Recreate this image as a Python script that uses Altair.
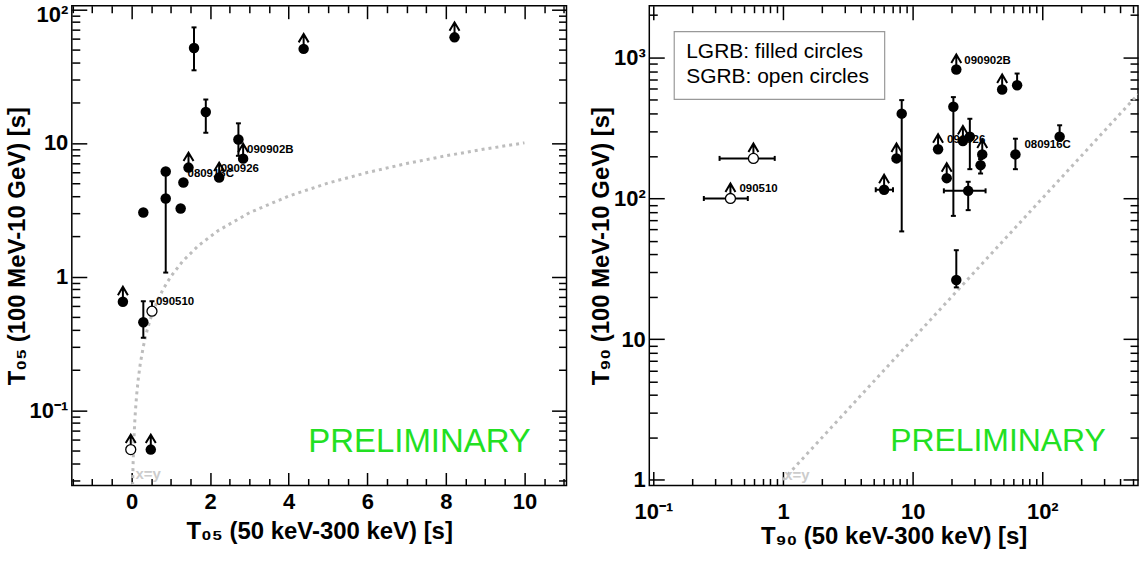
import altair as alt
import pandas as pd

FONT = "Liberation Sans"

# ---------------- Left panel (T05) data ----------------
L_x = [0.30, 0.87, 0.87, 1.25, 1.32, 1.45, 1.59, 1.89, 2.23, 2.72, 2.84, 4.38, 8.22, -0.22, 0.30, 0.52, -0.02, 0.49]
L_y = [3.01, 3.83, 6.10, 3.23, 5.05, 6.53, 51.3, 17.0, 5.50, 10.6, 7.62, 50.5, 61.6, 0.648, 0.455, 0.550, 0.0507, 0.0507]
L_open = [0, 0, 0, 0, 0, 0, 0, 0, 0, 0, 0, 0, 0, 0, 0, 1, 1, 0]
L_limit = [0, 0, 0, 0, 0, 1, 0, 0, 1, 0, 1, 1, 1, 1, 0, 0, 1, 1]
L_ylo = [None, 1.07, None, None, None, None, 34.9, 11.9, None, 8.0, None, None, None, None, 0.348, 0.55, None, None]
L_yhi = [None, 6.10, None, None, None, None, 73.1, 21.1, None, 14.0, None, None, None, None, 0.653, 0.653, None, None]
L_names = ["080916C", "090926", "090902B", "090510"]
L_name_idx = [5, 8, 10, 15]
L_xy_line = [0.0275, 0.03, 0.035, 0.04, 0.05, 0.06, 0.08, 0.1, 0.13, 0.17, 0.22, 0.3, 0.4, 0.5,
             0.65, 0.8, 1, 1.3, 1.7, 2.2, 3, 4, 5, 6, 7, 8, 9, 10]

# ---------------- Right panel (T90) data ----------------
R_x = [21.7, 49.0, 63.9, 8.23, 7.5, 6.02, 20.6, 15.7, 18.3, 24.4, 27.6, 34.4, 33.4, 26.8, 21.7, 62.0, 136, 0.591, 0.393]
R_y = [821, 592, 635, 399, 192, 115, 447, 223, 139, 255, 274, 205, 172, 113, 26.3, 205, 274, 192, 99.7]
R_open = [0] * 17 + [1, 1]
R_limit = [1, 1, 0, 0, 1, 1, 0, 1, 1, 1, 0, 1, 0, 0, 0, 0, 0, 1, 1]
R_ylo = [None, None, 635, 58.2, None, None, 75, None, None, None, 161, None, 150, 82.4, 23.3, 161, 274, None, None]
R_yhi = [None, None, 769, 498, None, None, 523, None, None, None, 367, None, 190, 131, 42.8, 265, 330, None, None]
R_xlo = [None, None, None, None, None, 5.19, None, None, None, None, None, None, None, 17.4, None, None, None, 0.324, 0.245]
R_xhi = [None, None, None, None, None, 7.05, None, None, None, None, None, None, None, 36.5, None, None, None, 0.863, 0.535]
R_names = ["090902B", "090926", "080916C", "090510"]
R_name_idx = [0, 7, 15, 18]
R_xy_line = [1.0, 547]

LEGEND_LINES = ["LGRB: filled circles", "SGRB: open circles"]

# tick positions
LX_major = [0, 2, 4, 6, 8, 10]
LX_minor = [v / 2 for v in range(-3, 23) if v % 4 != 0]
LY_major = [0.1, 1, 10, 100]
LY_minor = [m * d for d in (0.01, 0.1, 1, 10) for m in range(2, 10) if 0.027 < m * d < 106]
RX_major = [0.1, 1, 10, 100]
RX_minor = [m * d for d in (0.1, 1, 10, 100) for m in range(2, 10) if m * d < 547]
RY_major = [1, 10, 100, 1000]
RY_minor = [m * d for d in (1, 10, 100, 1000) for m in range(2, 10) if m * d < 2331]

# ---------------- styling / layout ----------------
ARROW = "M0,0 L0,-1.5 M-0.5,-0.65 L0,-1.5 L0.5,-0.65"
HCAP = "M-1,0 L1,0"
VCAP = "M0,-1 L0,1"
GREEN = "#22e022"

COMMON = dict(domain=False, grid=False, tickColor="black", tickWidth=1.5,
              labelFont=FONT, labelFontSize=22, labelFontWeight="bold", labelColor="black",
              titleFont=FONT, titleFontSize=24, titleFontWeight="bold", titleColor="black",
              labelFlush=False, labelOverlap=False)


def axis_layers(dummy, xs, ys, xmaj, xmin_, ymaj, ymin_, xlen, ylen, xexpr, yexpr,
                xtitle, ytitle, xlabpad, ylabpad, xtpad, ytpad, ylaboff):
    base = alt.Chart(dummy).mark_point(opacity=0)
    a = base.encode(
        x=alt.X("x:Q", scale=xs, axis=alt.Axis(orient="bottom", values=xmaj, tickSize=xlen[0], offset=-xlen[0],
                                               labelExpr=xexpr, labelPadding=xlabpad, title=xtitle,
                                               titlePadding=xtpad, **COMMON)),
        y=alt.Y("y:Q", scale=ys, axis=alt.Axis(orient="left", values=ymaj, tickSize=ylen[0], offset=-ylen[0],
                                               labelExpr=yexpr, labelPadding=ylabpad, title=ytitle,
                                               titlePadding=ytpad, labelOffset=ylaboff, **COMMON)),
    )
    b = base.encode(
        x=alt.X("x:Q", scale=xs, axis=alt.Axis(orient="bottom", values=xmin_, tickSize=xlen[1], offset=-xlen[1],
                                               labels=False, title=None, **COMMON)),
        y=alt.Y("y:Q", scale=ys, axis=alt.Axis(orient="left", values=ymin_, tickSize=ylen[1], offset=-ylen[1],
                                               labels=False, title=None, **COMMON)),
    )
    c = base.encode(
        x=alt.X("x:Q", scale=xs, axis=alt.Axis(orient="top", values=xmaj, tickSize=xlen[0], offset=-xlen[0],
                                               labels=False, title=None, **COMMON)),
        y=alt.Y("y:Q", scale=ys, axis=alt.Axis(orient="right", values=ymaj, tickSize=ylen[0], offset=-ylen[0],
                                               labels=False, title=None, **COMMON)),
    )
    d = base.encode(
        x=alt.X("x:Q", scale=xs, axis=alt.Axis(orient="top", values=xmin_, tickSize=xlen[1], offset=-xlen[1],
                                               labels=False, title=None, **COMMON)),
        y=alt.Y("y:Q", scale=ys, axis=alt.Axis(orient="right", values=ymin_, tickSize=ylen[1], offset=-ylen[1],
                                               labels=False, title=None, **COMMON)),
    )
    return [a, b, c, d]


def data_layers(xs, ys, X, Y, OPEN, LIMIT, YLO, YHI, XLO, XHI, names, name_idx, name_off, xyline):
    n = len(X)
    df = pd.DataFrame({"x": X, "y": Y, "open": OPEN, "limit": LIMIT})
    ex = dict(scale=xs, axis=None)
    ey = dict(scale=ys, axis=None)
    layers = []
    # x = y reference line
    line_df = pd.DataFrame({"x": xyline, "y": xyline})
    layers.append(alt.Chart(line_df).mark_line(color="#bdbdbd", strokeWidth=3, strokeDash=[3, 4], clip=True)
                  .encode(x=alt.X("x:Q", **ex), y=alt.Y("y:Q", **ey)))
    # y error bars
    ye = pd.DataFrame({"x": [X[i] for i in range(n) if YLO[i] is not None],
                       "lo": [YLO[i] for i in range(n) if YLO[i] is not None],
                       "hi": [YHI[i] for i in range(n) if YLO[i] is not None]})
    if len(ye):
        layers.append(alt.Chart(ye).mark_rule(color="black", strokeWidth=2)
                      .encode(x=alt.X("x:Q", **ex), y=alt.Y("lo:Q", **ey), y2="hi:Q"))
        caps = pd.DataFrame({"x": list(ye["x"]) * 2, "y": list(ye["lo"]) + list(ye["hi"])})
        layers.append(alt.Chart(caps).mark_point(shape=HCAP, size=25, filled=False, color="black",
                                                 strokeWidth=2, opacity=1)
                      .encode(x=alt.X("x:Q", **ex), y=alt.Y("y:Q", **ey)))
    # x error bars
    if XLO is not None:
        xe = pd.DataFrame({"y": [Y[i] for i in range(n) if XLO[i] is not None],
                           "lo": [XLO[i] for i in range(n) if XLO[i] is not None],
                           "hi": [XHI[i] for i in range(n) if XLO[i] is not None]})
        layers.append(alt.Chart(xe).mark_rule(color="black", strokeWidth=2)
                      .encode(y=alt.Y("y:Q", **ey), x=alt.X("lo:Q", **ex), x2="hi:Q"))
        caps = pd.DataFrame({"y": list(xe["y"]) * 2, "x": list(xe["lo"]) + list(xe["hi"])})
        layers.append(alt.Chart(caps).mark_point(shape=VCAP, size=25, filled=False, color="black",
                                                 strokeWidth=2, opacity=1)
                      .encode(x=alt.X("x:Q", **ex), y=alt.Y("y:Q", **ey)))
    # name labels
    for name, idx, (dx, dy) in zip(names, name_idx, name_off):
        ldf = pd.DataFrame({"x": [X[idx]], "y": [Y[idx]], "t": [name]})
        layers.append(alt.Chart(ldf).mark_text(align="left", baseline="middle", dx=dx, dy=dy, font=FONT,
                                               fontWeight="bold", fontSize=11.5, color="black")
                      .encode(x=alt.X("x:Q", **ex), y=alt.Y("y:Q", **ey), text="t:N"))
    # lower-limit arrows
    layers.append(alt.Chart(df[df["limit"] == 1]).mark_point(shape=ARROW, size=400, filled=False, color="black",
                                                              strokeWidth=2, opacity=1)
                  .encode(x=alt.X("x:Q", **ex), y=alt.Y("y:Q", **ey)))
    # filled circles
    layers.append(alt.Chart(df[df["open"] == 0]).mark_point(shape="circle", size=110, filled=True,
                                                             color="black", opacity=1)
                  .encode(x=alt.X("x:Q", **ex), y=alt.Y("y:Q", **ey)))
    # open circles
    layers.append(alt.Chart(df[df["open"] == 1]).mark_point(shape="circle", size=100, filled=True, fill="white",
                                                             stroke="black", strokeWidth=1.3, opacity=1)
                  .encode(x=alt.X("x:Q", **ex), y=alt.Y("y:Q", **ey)))
    return layers


def note(xs, ys, x, y, text, **kw):
    d = pd.DataFrame({"x": [x], "y": [y], "t": [text]})
    return alt.Chart(d).mark_text(font=FONT, **kw).encode(
        x=alt.X("x:Q", scale=xs, axis=None), y=alt.Y("y:Q", scale=ys, axis=None), text="t:N")


# ---------------- Left panel ----------------
lxs = alt.Scale(type="linear", domain=[-1.52, 11.07], nice=False, zero=False)
lys = alt.Scale(type="log", domain=[0.02733, 106.2], nice=False)
left_layers = axis_layers(
    pd.DataFrame({"x": [5], "y": [1]}), lxs, lys, LX_major, LX_minor, LY_major, LY_minor,
    (13, 7), (15, 8), "datum.label",
    "datum.value < 0.5 ? '10\u207b\u00b9' : datum.value < 5 ? '1' : datum.value < 50 ? '10' : '10\u00b2'",
    "T\u2080\u2085 (50 keV-300 keV) [s]", "T\u2080\u2085 (100 MeV-10 GeV) [s]",
    6, 4, 7, 0, {"condition": {"test": "datum.value > 50", "value": 5}, "value": 0})
left_layers += data_layers(lxs, lys, L_x, L_y, L_open, L_limit, L_ylo, L_yhi, None, None,
                           L_names, L_name_idx, [(-1, 6), (1.5, -9), (4, -9), (4, -9)], L_xy_line)
left_layers.append(note(lxs, lys, 0.1, 0.033, "x=y", align="left", baseline="middle", fontSize=15,
                        fontWeight="bold", color="#cccccc"))
left_layers.append(note(lxs, lys, 7.33, 0.0582, "PRELIMINARY", align="center", baseline="middle",
                        fontSize=33, color=GREEN))
left = alt.layer(*left_layers).resolve_axis(x="independent", y="independent").properties(width=496, height=481)

# ---------------- Right panel ----------------
rxs = alt.Scale(type="log", domain=[0.093, 547], nice=False)
rys = alt.Scale(type="log", domain=[0.914, 2331], nice=False)
right_layers = axis_layers(
    pd.DataFrame({"x": [1], "y": [10]}), rxs, rys, RX_major, RX_minor, RY_major, RY_minor,
    (14, 7), (15, 8),
    "datum.value < 0.5 ? '10\u207b\u00b9' : datum.value < 5 ? '1' : datum.value < 50 ? '10' : '10\u00b2'",
    "datum.value < 5 ? '1' : datum.value < 50 ? '10' : datum.value < 500 ? '10\u00b2' : '10\u00b3'",
    "T\u2089\u2080 (50 keV-300 keV) [s]", "T\u2089\u2080 (100 MeV-10 GeV) [s]",
    16, 4, 2, 0, 0)
right_layers += data_layers(rxs, rys, R_x, R_y, R_open, R_limit, R_ylo, R_yhi, R_xlo, R_xhi,
                            R_names, R_name_idx, [(8, -9), (9, -9), (9, -9), (9, -9)], R_xy_line)
right_layers.append(note(rxs, rys, 1.02, 1.08, "x=y", align="left", baseline="middle", fontSize=15,
                         fontWeight="bold", color="#cccccc"))
right_layers.append(note(rxs, rys, 45.5, 1.905, "PRELIMINARY", align="center", baseline="middle",
                         fontSize=32, color=GREEN))
box_df = pd.DataFrame({"a": [0]})
right_layers.append(alt.Chart(box_df).mark_rect(fill="white", stroke="#999999", strokeWidth=1.2).encode(
    x=alt.value(25), x2=alt.value(236), y=alt.value(26), y2=alt.value(94)))
for i, line in enumerate(LEGEND_LINES):
    right_layers.append(alt.Chart(box_df).mark_text(font=FONT, fontSize=21, align="left", baseline="middle",
                                                     color="black").encode(
        x=alt.value(37), y=alt.value(46 + 25 * i), text=alt.value(line)))
right = alt.layer(*right_layers).resolve_axis(x="independent", y="independent").properties(width=490, height=481)

chart = alt.hconcat(left, right, spacing=83, bounds="flush").properties(
    padding={"left": 4, "top": 1, "right": 2, "bottom": 4}, background="white"
).configure_view(stroke="black", strokeWidth=1.5)

chart.save("out.html", embed_options={"renderer": "svg", "actions": False})
